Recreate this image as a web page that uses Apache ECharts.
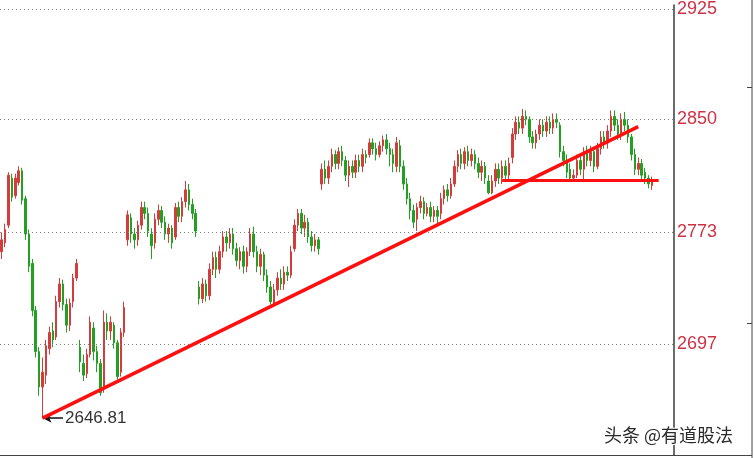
<!DOCTYPE html>
<html>
<head>
<meta charset="utf-8">
<script src="https://cdn.jsdelivr.net/npm/echarts@6/dist/echarts.min.js"></script>
<style>html,body{margin:0;padding:0;background:#fff;}#c{width:756px;height:458px;}</style>
</head>
<body>
<div id="c"></div>
<script>
const slotCount = 198;
const categories = Array.from({length: slotCount}, (_, i) => 'D' + (i + 1));
const opens = [2760,2766,2778,2810,2798,2807,2815,2796,2772,2752,2720,2692,2668,2676,2694,2706,2702,2726,2738,2724,2710,2726,2742,2695,2684,2677,2690,2708,2692,2684,2668,2712,2706,2710,2698,2678,2705,2768,2783,2772,2768,2778,2790,2786,2772,2766,2782,2788,2780,2772,2776,2770,2790,2784,2794,2802,2792,2786,2736,2728,2738,2730,2748,2756,2748,2760,2770,2766,2772,2762,2754,2760,2750,2760,2772,2760,2750,2758,2744,2736,2724,2734,2742,2738,2746,2744,2762,2778,2786,2776,2780,2770,2764,2768,2806,2816,2810,2818,2826,2820,2828,2822,2812,2818,2814,2822,2818,2826,2826,2834,2830,2826,2832,2836,2830,2826,2818,2832,2818,2806,2796,2788,2782,2790,2794,2786,2790,2784,2788,2786,2796,2802,2798,2806,2818,2826,2820,2828,2822,2826,2820,2814,2818,2808,2800,2808,2816,2810,2818,2812,2824,2840,2848,2844,2852,2850,2838,2834,2840,2846,2842,2848,2844,2850,2846,2828,2822,2816,2810,2812,2822,2816,2828,2822,2828,2818,2830,2838,2834,2842,2852,2846,2840,2850,2846,2838,2826,2816,2820,2814,2810,2805];
const closes = [2768,2775,2812,2797,2810,2815,2795,2772,2750,2720,2692,2668,2678,2696,2705,2700,2726,2738,2724,2710,2725,2742,2752,2685,2676,2690,2712,2692,2684,2664,2712,2706,2712,2698,2675,2705,2722,2785,2772,2768,2778,2790,2786,2774,2764,2782,2788,2780,2772,2776,2766,2790,2784,2794,2802,2792,2786,2774,2728,2738,2730,2748,2756,2748,2760,2770,2766,2772,2762,2754,2760,2750,2760,2772,2760,2750,2758,2744,2736,2726,2734,2742,2738,2746,2744,2760,2778,2786,2776,2780,2770,2764,2768,2762,2816,2810,2818,2826,2820,2828,2822,2812,2818,2814,2822,2818,2826,2824,2834,2830,2826,2832,2836,2830,2826,2820,2834,2818,2806,2796,2788,2780,2790,2794,2786,2790,2784,2788,2784,2796,2802,2798,2806,2818,2826,2820,2828,2822,2826,2820,2814,2818,2810,2800,2808,2816,2810,2818,2812,2820,2840,2848,2844,2852,2850,2838,2834,2840,2846,2842,2848,2844,2850,2848,2828,2822,2814,2810,2812,2822,2816,2828,2822,2828,2818,2830,2838,2834,2842,2852,2846,2840,2850,2846,2838,2826,2816,2820,2812,2810,2806,2808];
const lows = [2755,2763,2776,2794,2796,2805,2792,2768,2746,2716,2688,2662,2646.81,2670,2690,2695,2700,2722,2720,2705,2706,2722,2740,2678,2672,2674,2688,2686,2678,2662,2664,2700,2700,2694,2673,2675,2702,2764,2766,2762,2764,2775,2782,2770,2755,2762,2778,2776,2768,2766,2762,2768,2780,2780,2790,2788,2782,2770,2724,2725,2726,2727,2744,2742,2745,2756,2760,2762,2758,2750,2748,2745,2746,2757,2756,2746,2744,2740,2732,2724,2725,2730,2734,2734,2740,2742,2760,2774,2772,2770,2766,2760,2760,2758,2802,2806,2806,2814,2816,2816,2818,2808,2804,2810,2810,2814,2814,2820,2824,2826,2822,2824,2828,2826,2818,2814,2814,2814,2802,2792,2782,2776,2774,2786,2782,2784,2780,2780,2778,2782,2792,2794,2796,2804,2814,2816,2816,2818,2818,2816,2810,2808,2806,2799,2799,2804,2806,2806,2808,2808,2820,2836,2840,2840,2846,2834,2830,2830,2836,2838,2838,2840,2840,2844,2824,2818,2810,2808,2808,2810,2812,2808,2818,2818,2814,2816,2826,2830,2830,2838,2842,2836,2836,2842,2834,2822,2812,2812,2808,2806,2803,2802];
const highs = [2773,2779,2814,2813,2813,2818,2817,2798,2775,2755,2723,2695,2688,2700,2709,2712,2730,2742,2741,2728,2728,2745,2755,2700,2690,2694,2716,2712,2696,2687,2720,2718,2716,2712,2700,2708,2726,2788,2786,2776,2781,2794,2794,2790,2776,2786,2792,2791,2784,2779,2778,2793,2794,2797,2808,2806,2796,2789,2740,2742,2741,2752,2760,2760,2764,2774,2774,2776,2776,2766,2763,2764,2763,2776,2777,2764,2762,2760,2748,2740,2738,2746,2748,2750,2750,2764,2782,2789,2789,2785,2783,2774,2772,2770,2820,2822,2822,2830,2829,2831,2832,2825,2822,2822,2826,2826,2830,2829,2837,2837,2834,2835,2839,2840,2834,2830,2838,2836,2822,2810,2800,2792,2793,2798,2797,2793,2794,2791,2791,2800,2805,2806,2810,2822,2829,2830,2831,2832,2830,2829,2824,2822,2821,2812,2812,2820,2820,2822,2822,2824,2844,2852,2852,2857,2856,2852,2842,2843,2850,2850,2852,2852,2854,2854,2848,2832,2826,2820,2816,2826,2826,2831,2832,2832,2830,2834,2842,2842,2846,2856,2856,2850,2854,2855,2850,2840,2830,2824,2823,2817,2812,2811];
const tickLabels = [2697, 2773, 2850, 2925];
const lowIndex = 12;
const lowValue = 2646.81;
const trendEnd = [187, 2845];
const supportLine = [[147, 2808.5], [193, 2808.5]];
const arrowEndIndex = 18;

const candleData = opens.map((o, i) => [o, closes[i], lows[i], highs[i]]);

const chart = echarts.init(document.getElementById('c'), null, {renderer: 'canvas'});
const gridLines = tickLabels.map(v => ({
  yAxis: v,
  lineStyle: {color: '#808080', type: [1, 3], width: 1},
  label: {show: false}
}));
chart.setOption({
  animation: false,
  backgroundColor: '#ffffff',
  grid: {left: 0, right: 82, top: 0, bottom: 3, containLabel: false},
  xAxis: {
    type: 'category',
    data: categories,
    boundaryGap: true,
    axisLine: {show: false},
    axisTick: {show: false},
    axisLabel: {show: false},
    splitLine: {show: false}
  },
  yAxis: {
    type: 'value',
    position: 'right',
    min: 2621.7,
    max: 2927.7,
    axisLine: {show: true, lineStyle: {color: '#3a3a3a', width: 1.5}},
    axisTick: {show: false},
    splitLine: {show: false},
    axisLabel: {
      customValues: tickLabels,
      formatter: v => String(Math.round(v)),
      color: '#cc3344',
      fontSize: 18,
      fontFamily: 'Liberation Sans, Arial, sans-serif',
      margin: 3,
      align: 'left',
      verticalAlign: 'middle',
      verticalAlignMaxLabel: 'middle',
      verticalAlignMinLabel: 'middle'
    }
  },
  series: [{
    type: 'candlestick',
    data: candleData,
    barWidth: 2,
    itemStyle: {
      color: '#d43c3c',
      color0: '#22a022',
      borderColor: '#d43c3c',
      borderColor0: '#22a022',
      borderWidth: 1
    },
    markLine: {
      silent: true,
      symbol: ['none', 'none'],
      animation: false,
      label: {show: false},
      data: gridLines.concat([
        [
          {coord: [lowIndex, lowValue], symbol: 'arrow', symbolSize: [7, 9], symbolRotate: 90,
           lineStyle: {color: '#111', width: 1.5, type: 'solid'}},
          {coord: [arrowEndIndex, lowValue], symbol: 'none',
           label: {show: true, position: 'end', formatter: '2646.81', color: '#333', fontSize: 17,
                   fontFamily: 'Liberation Sans, Arial, sans-serif', distance: 2}}
        ],
        [
          {coord: [lowIndex, lowValue], lineStyle: {color: '#ff1010', width: 3.5, type: 'solid'}},
          {coord: trendEnd}
        ],
        [
          {coord: supportLine[0], lineStyle: {color: '#ff1010', width: 3, type: 'solid'}},
          {coord: supportLine[1]}
        ]
      ])
    }
  }],
  graphic: [
    {type: 'line', shape: {x1: 752, y1: 0, x2: 752, y2: 458}, style: {stroke: '#444', lineWidth: 1}},
    {type: 'line', shape: {x1: 0, y1: 455.5, x2: 752, y2: 455.5}, style: {stroke: '#444', lineWidth: 1}},
    {type: 'line', shape: {x1: 747, y1: 87.5, x2: 752, y2: 87.5}, style: {stroke: '#444', lineWidth: 1}},
    {type: 'line', shape: {x1: 747, y1: 323.5, x2: 752, y2: 323.5}, style: {stroke: '#444', lineWidth: 1}},
    {type: 'text', left: 603, top: 425, z: 100,
     style: {text: '头条 @有道股法', fill: '#2a2a2a', fontSize: 18,
             fontFamily: 'Noto Sans CJK SC, sans-serif', stroke: '#fff', lineWidth: 2}}
  ]
});
</script>
</body>
</html>
